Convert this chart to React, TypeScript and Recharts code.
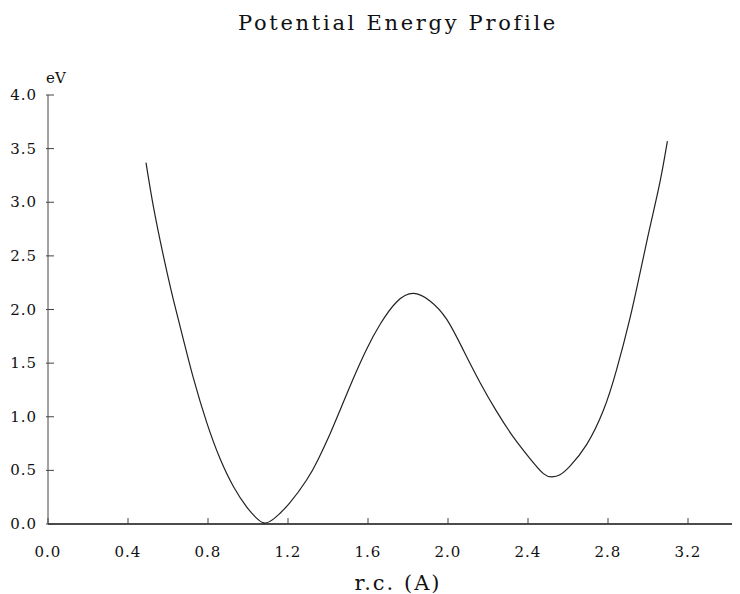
import { LineChart, Line, XAxis, YAxis } from 'recharts';

const rc = [
  0.49, 0.527, 0.577, 0.627, 0.677, 0.727, 0.793, 0.86, 0.927, 0.993, 1.04, 1.08, 1.13,
  1.21, 1.293, 1.35, 1.41, 1.46, 1.525, 1.593, 1.66, 1.743, 1.827, 1.91, 1.993, 2.077,
  2.16, 2.243, 2.327, 2.41, 2.477, 2.52, 2.56, 2.61, 2.693, 2.777, 2.843, 2.91, 2.96,
  3.01, 3.06, 3.097,
];
const energy = [
  3.37, 2.96, 2.5, 2.09, 1.72, 1.36, 0.95, 0.61, 0.35, 0.16, 0.06, 0.01, 0.05,
  0.2, 0.41, 0.6, 0.84, 1.06, 1.35, 1.63, 1.86, 2.07, 2.15, 2.08, 1.91, 1.62,
  1.32, 1.05, 0.81, 0.61, 0.47, 0.44, 0.46, 0.54, 0.74, 1.06, 1.44, 1.92, 2.34,
  2.77, 3.19, 3.57,
];
const xTicks = [0, 0.4, 0.8, 1.2, 1.6, 2.0, 2.4, 2.8, 3.2];
const yTicks = [0, 0.5, 1.0, 1.5, 2.0, 2.5, 3.0, 3.5, 4.0];

const data = rc.map((x, i) => ({ x, e: energy[i] }));

const serif = '"DejaVu Serif", serif';

function XTick(props: any) {
  const { x, y, payload } = props;
  return (
    <g>
      <line x1={x} x2={x} y1={y} y2={y - 6} stroke="#444" strokeWidth={1} />
      <text
        x={x}
        y={y + 33}
        textAnchor="middle"
        fontFamily={serif}
        fontSize={15}
        letterSpacing={1}
        fill="#111"
      >
        {payload.value.toFixed(1)}
      </text>
    </g>
  );
}

function YTick(props: any) {
  const { x, y, payload } = props;
  return (
    <g>
      <line x1={x - 2} x2={x + 6} y1={y} y2={y} stroke="#444" strokeWidth={1} />
      <text
        x={x - 11}
        y={y + 5}
        textAnchor="end"
        fontFamily={serif}
        fontSize={15}
        letterSpacing={1}
        fill="#111"
      >
        {payload.value.toFixed(1)}
      </text>
    </g>
  );
}

export default function App() {
  return (
    <div style={{ width: 732, height: 586, position: 'relative' }}>
      <LineChart
        width={732}
        height={586}
        data={data}
        margin={{ top: 87, right: 0, bottom: 40, left: 0 }}
      >
        <text
          x={390}
          y={22}
          textAnchor="middle"
          fontFamily={serif}
          fontSize={21}
          letterSpacing={2.7}
          fill="#111"
        >
          Potential Energy Profile
        </text>
        <text x={38} y={75} fontFamily={serif} fontSize={15} fill="#111">
          eV
        </text>
        <text
          x={390}
          y={582}
          textAnchor="middle"
          fontFamily={serif}
          fontSize={21}
          letterSpacing={2}
          fill="#111"
        >
          r.c. (A)
        </text>
        <XAxis
          dataKey="x"
          type="number"
          domain={[0, 3.46]}
          ticks={xTicks}
          height={30}
          tickSize={0}
          tickMargin={0}
          tickLine={false}
          tick={<XTick />}
          axisLine={{ stroke: '#111', strokeWidth: 1.6 }}
        />
        <YAxis
          type="number"
          domain={[0, 4]}
          ticks={yTicks}
          width={40}
          tickSize={0}
          tickMargin={0}
          tickLine={false}
          tick={<YTick />}
          axisLine={{ stroke: '#444', strokeWidth: 1 }}
        />
        <Line
          type="natural"
          dataKey="e"
          stroke="#222"
          strokeWidth={1.2}
          dot={false}
          isAnimationActive={false}
        />
      </LineChart>
    </div>
  );
}
